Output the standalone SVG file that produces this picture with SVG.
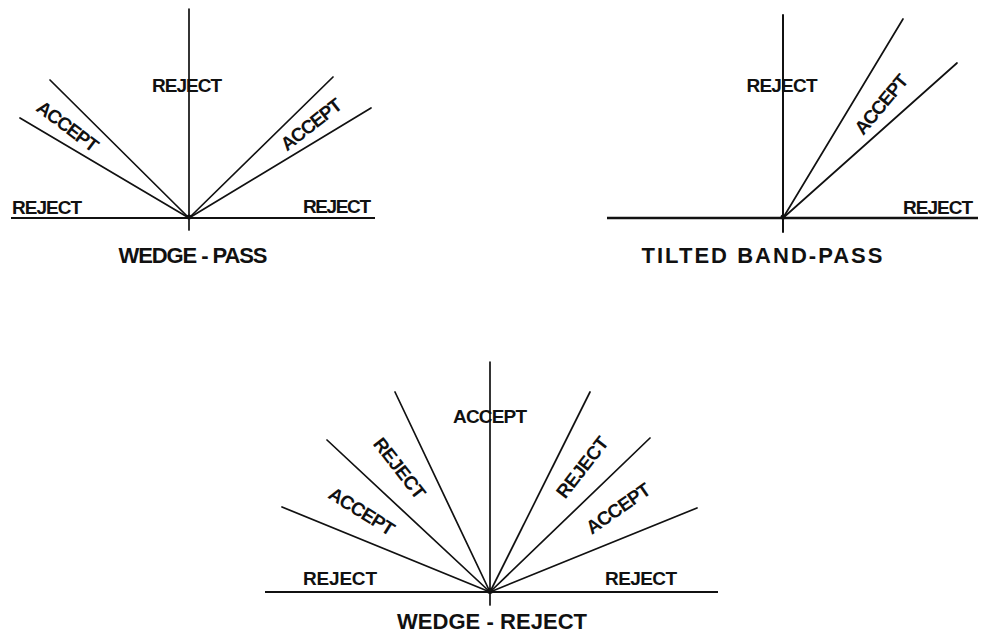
<svg xmlns="http://www.w3.org/2000/svg" width="991" height="635" viewBox="0 0 991 635">
<style>
.ln{stroke:#111;stroke-width:1.7;fill:none;stroke-linecap:round}
.ax{stroke:#111;stroke-width:2;fill:none}
.t{font-family:"Liberation Sans",Arial,sans-serif;font-weight:bold;font-size:19px;fill:#111;text-anchor:middle}
.c{font-family:"Liberation Sans",Arial,sans-serif;font-weight:bold;font-size:22px;fill:#111;text-anchor:middle}
</style>
<rect width="991" height="635" fill="#fff"/>
<g id="connectors">
  <!-- wedge-pass -->
  <line class="ax" x1="11" y1="218" x2="375" y2="218"/>
  <line class="ln" x1="189" y1="9" x2="189" y2="230"/>
  <line class="ln" x1="50" y1="80" x2="189" y2="218"/>
  <line class="ln" x1="20" y1="118" x2="189" y2="218"/>
  <line class="ln" x1="333" y1="77" x2="189" y2="218"/>
  <line class="ln" x1="371" y1="108" x2="189" y2="218"/>
  <!-- tilted band-pass -->
  <line class="ax" x1="607" y1="218" x2="978" y2="218" style="stroke-width:2.4"/>
  <line class="ln" x1="783" y1="15" x2="783" y2="232" style="stroke-width:2"/>
  <line class="ln" x1="903" y1="19" x2="783" y2="218"/>
  <line class="ln" x1="957" y1="63" x2="783" y2="218"/>
  <!-- wedge-reject -->
  <line class="ax" x1="265" y1="592" x2="718" y2="592"/>
  <line class="ln" x1="490" y1="362" x2="490" y2="605"/>
  <line class="ln" x1="282" y1="507" x2="490" y2="592"/>
  <line class="ln" x1="327" y1="440" x2="490" y2="592"/>
  <line class="ln" x1="395" y1="392" x2="490" y2="592"/>
  <line class="ln" x1="590" y1="392" x2="490" y2="592"/>
  <line class="ln" x1="650" y1="438" x2="490" y2="592"/>
  <line class="ln" x1="697" y1="508" x2="490" y2="592"/>
</g>
<g id="wedge-pass">
  <circle cx="189" cy="217" r="2.5" fill="#111"/>
  <text class="t" x="187" y="92" textLength="70">REJECT</text>
  <text class="t" x="47" y="214" textLength="70">REJECT</text>
  <text class="t" x="337" y="213" textLength="68">REJECT</text>
  <text class="t" transform="translate(68,126) rotate(37)" y="7" textLength="72">ACCEPT</text>
  <text class="t" transform="translate(311,124) rotate(-38)" y="7" textLength="72">ACCEPT</text>
  <text class="c" x="193" y="263" textLength="149">WEDGE - PASS</text>
</g>
<g id="tilted-band-pass">
  <circle cx="783" cy="217" r="2.5" fill="#111"/>
  <text class="t" x="782" y="92" textLength="71">REJECT</text>
  <text class="t" x="938" y="214" textLength="70">REJECT</text>
  <text class="t" transform="translate(881,104) rotate(-50)" y="7" textLength="72">ACCEPT</text>
  <text class="c" x="762" y="263" textLength="241">TILTED BAND-PASS</text>
</g>
<g id="wedge-reject">
  <circle cx="490" cy="591" r="3" fill="#111"/>
  <text class="t" x="490" y="423" textLength="74">ACCEPT</text>
  <text class="t" x="340" y="585" textLength="74">REJECT</text>
  <text class="t" x="641" y="585" textLength="72">REJECT</text>
  <text class="t" transform="translate(400,468) rotate(52)" y="7" textLength="72">REJECT</text>
  <text class="t" transform="translate(362,511) rotate(32)" y="7" textLength="74">ACCEPT</text>
  <text class="t" transform="translate(582,467) rotate(-52)" y="7" textLength="72">REJECT</text>
  <text class="t" transform="translate(618,508) rotate(-35)" y="7" textLength="74">ACCEPT</text>
  <text class="c" x="492" y="629" font-size="21" textLength="190">WEDGE - REJECT</text>
</g>
</svg>
